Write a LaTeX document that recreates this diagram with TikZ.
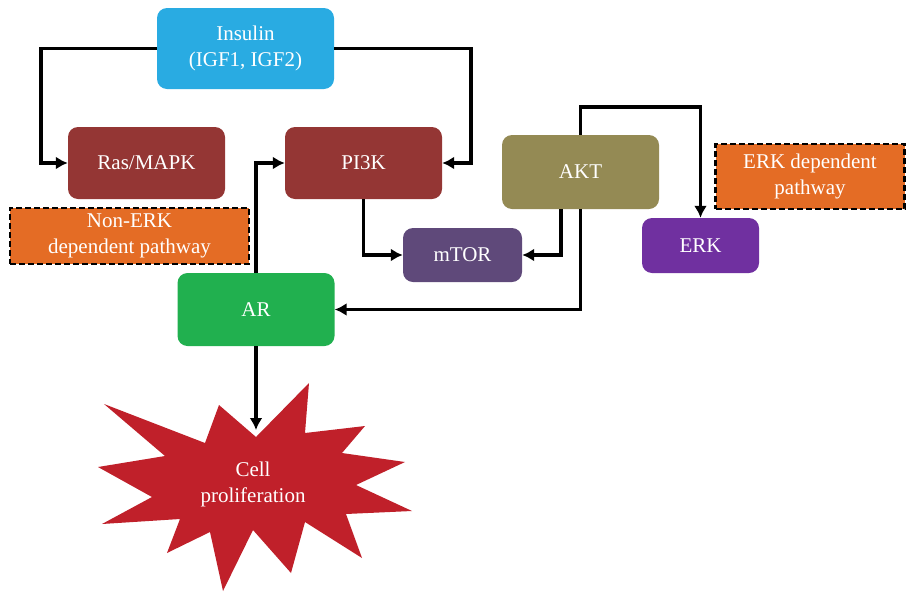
\documentclass[tikz,border=0pt]{standalone}
\usepackage{fontspec}
\setmainfont{Liberation Serif}
\usetikzlibrary{arrows.meta}
\definecolor{cins}{HTML}{29ABE2}
\definecolor{cred}{HTML}{943634}
\definecolor{corg}{HTML}{E46C25}
\definecolor{cmtor}{HTML}{5F497A}
\definecolor{cakt}{HTML}{948A54}
\definecolor{cerk}{HTML}{7030A0}
\definecolor{car}{HTML}{21B04F}
\definecolor{cburst}{HTML}{C0202A}
\tikzset{
  box/.style={rectangle, rounded corners=10pt, text=white, inner sep=0pt, align=center,
    font=\fontsize{21}{26}\selectfont},
  dashbox/.style={rectangle, fill=corg, draw=black, line width=2.6pt, dash pattern=on 6pt off 3pt,
    text=white, inner sep=0pt, align=center, font=\fontsize{21}{26}\selectfont},
  arr/.style={line width=3.8pt, -{Latex[length=12pt,width=13pt]}}
}
\begin{document}
\begin{tikzpicture}[x=1pt,y=-1pt]
\useasboundingbox (0,0) rectangle (907,592);
\node[box, fill=cins, minimum width=177, minimum height=81] (ins) at (245.5,48.5) {Insulin\\(IGF1, IGF2)};
\node[box, fill=cred, minimum width=157, minimum height=72] (ras) at (146.5,163) {Ras/MAPK};
\node[box, fill=cred, minimum width=157, minimum height=72] (pi) at (363.5,163) {PI3K};
\node[dashbox, minimum width=239, minimum height=56] (nonerk) at (129.5,236) {Non-ERK\\dependent pathway};
\node[box, fill=cmtor, minimum width=119, minimum height=54] (mtor) at (462.5,255) {mTOR};
\node[box, fill=cakt, minimum width=157, minimum height=74] (akt) at (580.5,172) {AKT};
\node[box, fill=cerk, minimum width=117, minimum height=55] (erk) at (700.5,245.5) {ERK};
\node[dashbox, minimum width=189, minimum height=65] (erkdep) at (810,176.5) {ERK dependent\\pathway};
\node[box, fill=car, minimum width=157, minimum height=73] (ar) at (256,309.5) {AR};
% starburst
\fill[cburst] (309,383) -- (305,433) -- (365,426) -- (342,453) -- (405,462) -- (356,485)
  -- (412,511) -- (346,514) -- (362,558) -- (305,522) -- (291,573) -- (253,530)
  -- (223,591) -- (210,532) -- (167,553) -- (180,519) -- (102,524) -- (152,497)
  -- (98,467) -- (165,456) -- (104,404) -- (205,443) -- (219,405) -- (256,437) -- cycle;
\node[text=white, align=center, font=\fontsize{21}{26}\selectfont] (cell) at (253,484) {Cell\\proliferation};
\coordinate (bursttop) at (256,430);
% connectors
\draw[arr] (ins.west) -- ++(-116,0) |- (ras.west);
\draw[arr] (ins.east) -- ++(137,0) |- (pi.east);
\draw[arr] (ar.north) |- (pi.west);
\draw[arr] (pi.south) |- (mtor.west);
\draw[arr] ([xshift=-19.5pt]akt.south) |- (mtor.east);
\draw[arr] (akt.south) |- (ar.east);
\draw[arr] (akt.north) -- ++(0,-28) -| (erk.north);
\draw[arr] (ar.south) -- (bursttop);
\end{tikzpicture}
\end{document}
